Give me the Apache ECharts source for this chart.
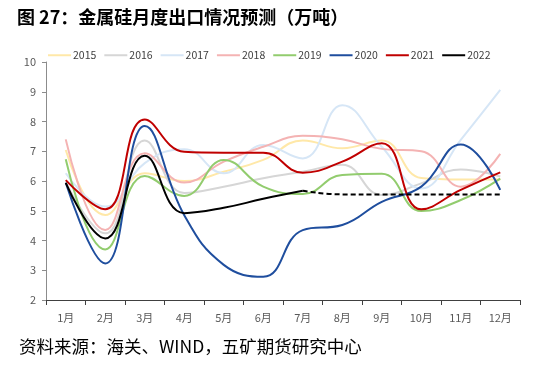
<!DOCTYPE html>
<html><head><meta charset="utf-8">
<script src="https://cdn.jsdelivr.net/npm/echarts@6/dist/echarts.min.js"></script>
<style>html,body{margin:0;padding:0;background:#fff}#c{width:536px;height:367px}</style>
</head><body><div id="c"></div>
<script>
var months = ['1月','2月','3月','4月','5月','6月','7月','8月','9月','10月','11月','12月'];
var y2015 = [7.04, 4.86, 6.26, 6.0, 6.31, 6.71, 7.36, 7.1, 7.36, 6.1, 6.05, 6.05];
var y2016 = [5.95, 4.24, 7.36, 5.6, 5.81, 6.09, 6.31, 6.55, 5.53, 5.92, 6.39, 6.15];
var y2017 = [6.26, 5.14, 6.6, 7.07, 6.26, 7.21, 6.76, 8.55, 7.15, 5.75, 7.38, 9.06];
var y2018 = [7.4, 4.35, 6.93, 5.95, 6.65, 7.15, 7.52, 7.4, 7.08, 7.0, 5.81, 6.91];
var y2019 = [6.73, 3.7, 6.17, 5.5, 6.71, 5.81, 5.56, 6.2, 6.24, 4.99, 5.36, 6.08];
var y2020 = [5.94, 3.23, 7.85, 4.85, 3.18, 2.78, 4.35, 4.52, 5.3, 5.81, 7.23, 5.7];
var y2021 = [6.03, 5.05, 8.07, 6.98, 6.95, 6.95, 6.28, 6.65, 7.27, 5.05, 5.7, 6.29];
var y2022actual = [5.94, 4.07, 6.85, 4.92, 5.1, 5.4, 5.67, null, null, null, null, null];
var y2022forecast = [null, null, null, null, null, null, 5.67, 5.55, 5.55, 5.55, 5.55, 5.55];
var yTicks = [2, 10, 1];

var chart = echarts.init(document.getElementById('c'), null, {renderer: 'canvas'});
function mk(name, data, color, dash) {
  return {name: name, type: 'line', data: data, smooth: 0.45, symbol: 'none',
    lineStyle: {color: color, width: 2, type: dash ? [5, 3] : 'solid'}, itemStyle: {color: color},
    connectNulls: false};
}
var option = {
  animation: false,
  textStyle: {fontFamily: 'Noto Sans CJK SC'},
  title: [{text: '图 27：金属硅月度出口情况预测（万吨）', left: 12, top: 3,
    textStyle: {fontSize: 18, fontWeight: 'bold', color: '#000', fontFamily: 'Noto Sans CJK SC'}},
    {text: '资料来源：海关、WIND，五矿期货研究中心', left: 14, top: 333,
    textStyle: {fontSize: 17.5, fontWeight: 'normal', color: '#000', fontFamily: 'Noto Sans CJK SC'}}],
  legend: {data: ['2015','2016','2017','2018','2019','2020','2021','2022'], left: 43, top: 45,
    itemWidth: 23, itemHeight: 2, itemGap: 8, icon: 'rect',
    textStyle: {fontSize: 10.5, color: '#404040', padding: [0, 0, 0, -3]}},
  grid: {left: 46, right: 16, top: 62, bottom: 67},
  xAxis: {type: 'category', data: months, boundaryGap: true,
    axisLine: {lineStyle: {color: '#404040', width: 1}},
    axisTick: {show: true, lineStyle: {color: '#404040'}, length: 5},
    axisLabel: {fontSize: 11, color: '#595959', margin: 12}},
  yAxis: {type: 'value', min: yTicks[0], max: yTicks[1], interval: yTicks[2],
    splitLine: {show: false},
    axisLine: {show: true, lineStyle: {color: '#8c8c8c'}},
    axisTick: {show: true, lineStyle: {color: '#8c8c8c'}, length: 4},
    axisLabel: {fontSize: 11, color: '#595959', margin: 10}},
  series: [
    mk('2015', y2015, '#FFE8A8'),
    mk('2016', y2016, '#D6D6D6'),
    mk('2017', y2017, '#D6E6F6'),
    mk('2018', y2018, '#F4B3B3'),
    mk('2019', y2019, '#92CC6E'),
    mk('2020', y2020, '#1F4E9E'),
    mk('2021', y2021, '#C00000'),
    mk('2022', y2022actual, '#000000'),
    mk('2022预测', y2022forecast, '#000000', true)
  ]
};
chart.setOption(option);
</script></body></html>
